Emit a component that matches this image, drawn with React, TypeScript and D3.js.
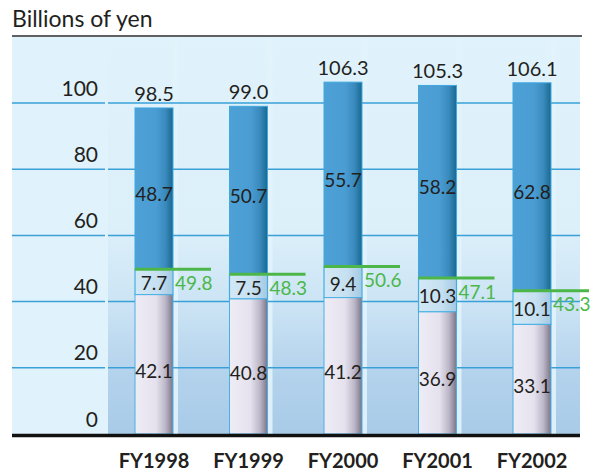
import React from "react";
import * as d3 from "d3";

const categories = ["FY1998", "FY1999", "FY2000", "FY2001", "FY2002"];
const bottomValues = [42.1, 40.8, 41.2, 36.9, 33.1];
const middleValues = [7.7, 7.5, 9.4, 10.3, 10.1];
const topValues = [48.7, 50.7, 55.7, 58.2, 62.8];
const totals = [98.5, 99.0, 106.3, 105.3, 106.1];
const greenValues = [49.8, 48.3, 50.6, 47.1, 43.3];
const yTicks = [0, 20, 40, 60, 80, 100];

const W = 594;
const H = 474;
const FONT = "Lato, 'Open Sans', sans-serif";
const TXT = "#231f20";
const GREEN = "#4cb748";

export default function App() {
  const y = d3.scaleLinear().domain([0, 100]).range([434, 103]);
  const x = d3.scaleBand<string>().domain(categories).range([108, 580.5]).padding(0);
  const barOff = 27;
  const barW = 38;
  const left = 12;
  const right = 580;
  const top = 37;
  const panelEnd = 105;
  const plotStart = 108;

  return (
    <svg width={W} height={H} style={{ position: "absolute", left: 0, top: 0 }}>
      <defs>
        <linearGradient id="bgGrad" x1="0" y1="0" x2="0" y2="1">
          <stop offset="0" stopColor="#e0f2fb" />
          <stop offset="0.48" stopColor="#dcf0fa" />
          <stop offset="0.68" stopColor="#cbe3f4" />
          <stop offset="0.85" stopColor="#b3d2ec" />
          <stop offset="1" stopColor="#a9cbe8" />
        </linearGradient>
        <linearGradient id="topGrad" x1="0" y1="0" x2="1" y2="0">
          <stop offset="0" stopColor="#4da1d7" />
          <stop offset="0.55" stopColor="#4a9dd3" />
          <stop offset="0.8" stopColor="#3a8abd" />
          <stop offset="1" stopColor="#186990" />
        </linearGradient>
        <linearGradient id="midGrad" x1="0" y1="0" x2="1" y2="0">
          <stop offset="0" stopColor="#d2e8f5" />
          <stop offset="0.6" stopColor="#c6e0f1" />
          <stop offset="1" stopColor="#a4c9e2" />
        </linearGradient>
        <linearGradient id="botGrad" x1="0" y1="0" x2="1" y2="0">
          <stop offset="0" stopColor="#eeecf5" />
          <stop offset="0.55" stopColor="#e5e2ee" />
          <stop offset="0.8" stopColor="#bcb7c8" />
          <stop offset="1" stopColor="#7a7488" />
        </linearGradient>
      </defs>

      {/* title */}
      <text x={left} y={27} fontFamily={FONT} fontSize={23} fill={TXT}>
        Billions of yen
      </text>
      <line x1={left} x2={582} y1={36} y2={36} stroke="#5f6062" strokeWidth={2} />

      {/* background */}
      <rect x={left} y={top} width={right - left} height={y(0) - top} fill="#e0f2fb" />
      <rect x={plotStart} y={top} width={right - plotStart} height={y(0) - top} fill="url(#bgGrad)" />
      {categories.map((c) => (
        <rect
          key={"s" + c}
          x={(x(c) as number) + barOff + barW}
          y={top}
          width={5}
          height={y(0) - top}
          fill="#e2f3fc"
          opacity={0.9}
        />
      ))}

      {/* gridlines */}
      {yTicks.filter((t) => t > 0).map((t) => (
        <g key={"g" + t}>
          <line x1={left} x2={panelEnd} y1={y(t)} y2={y(t)} stroke="#3aa0d8" strokeWidth={1.5} />
          <line x1={plotStart} x2={right} y1={y(t)} y2={y(t)} stroke="#3aa0d8" strokeWidth={1.5} />
        </g>
      ))}
      {yTicks.map((t) => (
        <text
          key={"t" + t}
          x={98}
          y={y(t) - 16}
          textAnchor="end"
          dominantBaseline="central"
          fontFamily={FONT}
          fontSize={21}
          fill={TXT}
        >
          {t}
        </text>
      ))}

      {/* bars */}
      {categories.map((c, i) => {
        const bx = (x(c) as number) + barOff;
        const b0 = 0;
        const b1 = bottomValues[i];
        const m1 = b1 + middleValues[i];
        const t1 = totals[i];
        const cx = bx + barW / 2;
        return (
          <g key={"b" + c}>
            <rect x={bx} y={y(t1)} width={barW} height={y(m1) - y(t1)} fill="url(#topGrad)" stroke="#3ea8df" strokeWidth={1} />
            <rect x={bx} y={y(m1)} width={barW} height={y(b1) - y(m1)} fill="url(#midGrad)" stroke="#45ace2" strokeWidth={1.2} />
            <rect x={bx} y={y(b1)} width={barW} height={y(b0) - y(b1)} fill="url(#botGrad)" stroke="#4ab0e4" strokeWidth={1} />
            {/* labels */}
            <text x={cx} y={y(t1) - 15} textAnchor="middle" dominantBaseline="central" fontFamily={FONT} fontSize={20} fill={TXT}>
              {totals[i].toFixed(1)}
            </text>
            <text x={cx} y={(y(m1) + y(t1)) / 2 + 5} textAnchor="middle" dominantBaseline="central" fontFamily={FONT} fontSize={19} fill={TXT}>
              {topValues[i].toFixed(1)}
            </text>
            <text x={cx} y={(y(b1) + y(m1)) / 2 + 1} textAnchor="middle" dominantBaseline="central" fontFamily={FONT} fontSize={19} fill={TXT}>
              {middleValues[i].toFixed(1)}
            </text>
            <text x={cx} y={(y(b0) + y(b1)) / 2 + 6} textAnchor="middle" dominantBaseline="central" fontFamily={FONT} fontSize={19} fill={TXT}>
              {bottomValues[i].toFixed(1)}
            </text>
            {/* green line */}
            <line x1={bx} x2={bx + 76} y1={y(greenValues[i])} y2={y(greenValues[i])} stroke={GREEN} strokeWidth={3} />
            <text x={bx + barW + 2} y={y(greenValues[i]) + 13} dominantBaseline="central" fontFamily={FONT} fontSize={19} fill={GREEN}>
              {greenValues[i].toFixed(1)}
            </text>
            <text x={cx} y={460} textAnchor="middle" dominantBaseline="central" fontFamily={FONT} fontWeight="bold" fontSize={20} fill={TXT}>
              {c}
            </text>
          </g>
        );
      })}

      {/* baseline */}
      <line x1={left} x2={right} y1={y(0) + 1.5} y2={y(0) + 1.5} stroke="#111" strokeWidth={3.5} />
    </svg>
  );
}
